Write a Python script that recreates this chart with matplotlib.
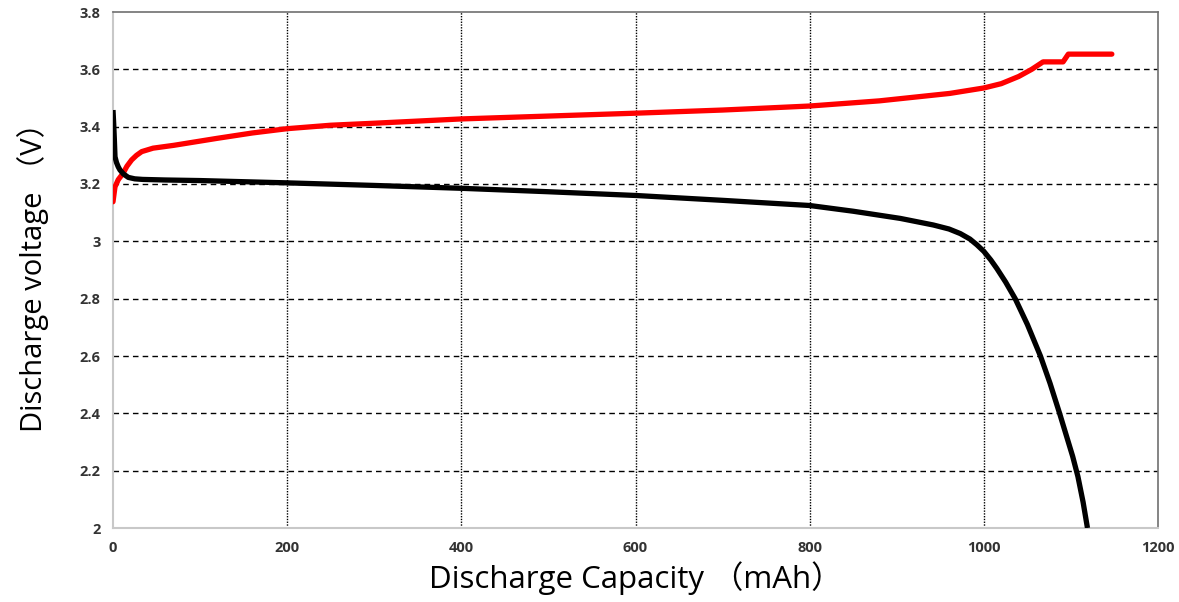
import matplotlib
matplotlib.use("Agg")
import matplotlib.pyplot as plt
import numpy as np

# Charge curve (red)
charge_cap = [0, 2.3, 6, 11.5, 16, 21.4, 27, 33, 46, 70, 119, 160, 200, 250, 300, 400,
              500, 600, 700, 800, 880, 961, 1000, 1020, 1040, 1055, 1068, 1091, 1097, 1147]
charge_v = [3.138, 3.19, 3.215, 3.237, 3.262, 3.284, 3.30, 3.313, 3.325, 3.335, 3.359, 3.378,
            3.393, 3.405, 3.412, 3.427, 3.437, 3.447, 3.458, 3.472, 3.49, 3.516, 3.535,
            3.55, 3.575, 3.60, 3.626, 3.626, 3.653, 3.653]

# Discharge curve (black)
dis_cap = [0, 0.8, 1.5, 2.3, 4, 6, 8, 12, 17.6, 25, 34, 60, 100, 200, 300, 400, 500, 600,
           700, 800, 850, 904, 942, 960, 973, 984, 992, 1000, 1008, 1015, 1025, 1036, 1050,
           1065, 1076, 1087, 1095, 1102, 1108, 1114, 1119]
dis_v = [3.458, 3.41, 3.36, 3.295, 3.275, 3.26, 3.249, 3.235, 3.223, 3.218, 3.216, 3.214,
         3.212, 3.204, 3.195, 3.185, 3.173, 3.16, 3.143, 3.125, 3.105, 3.08, 3.057, 3.043,
         3.027, 3.008, 2.988, 2.965, 2.935, 2.905, 2.858, 2.8, 2.71, 2.6, 2.505, 2.4, 2.32,
         2.25, 2.18, 2.09, 2.0]

x_ticks = [0, 200, 400, 600, 800, 1000, 1200]
y_ticks = [2, 2.2, 2.4, 2.6, 2.8, 3, 3.2, 3.4, 3.6, 3.8]
y_tick_labels = ["2", "2.2", "2.4", "2.6", "2.8", "3", "3.2", "3.4", "3.6", "3.8"]

fig = plt.figure(figsize=(11.79, 6.02), dpi=100)
ax = fig.add_axes([113/1179, 1-528/602, (1158-113)/1179, (528-12)/602])

ax.set_xlim(0, 1200)
ax.set_ylim(2, 3.8)
ax.set_xticks(x_ticks)
ax.set_yticks(y_ticks)
ax.set_yticklabels(y_tick_labels)

for y in y_ticks[1:-1]:
    ax.axhline(y, color="black", lw=1.0, ls=(0, (4, 3)), zorder=1)
for x in x_ticks[1:-1]:
    ax.axvline(x, color="black", lw=1.0, ls=(0, (1, 1)), zorder=1)

ax.plot(charge_cap, charge_v, color="#ff0000", lw=3.8, solid_capstyle="round",
        solid_joinstyle="round", zorder=3)
ax.plot(dis_cap, dis_v, color="black", lw=3.8, solid_capstyle="butt",
        solid_joinstyle="round", zorder=4)

for s in ["left", "bottom"]:
    ax.spines[s].set_color("#c8c8c8")
    ax.spines[s].set_linewidth(1.5)
for s in ["top", "right"]:
    ax.spines[s].set_color("#707070")
    ax.spines[s].set_linewidth(1.2)

ax.tick_params(length=0, labelsize=10.5, colors="#333333", pad=9)
for lab in ax.get_xticklabels() + ax.get_yticklabels():
    lab.set_family(["Open Sans", "DejaVu Sans"])
    lab.set_fontweight("bold")

fam = ["Open Sans", "Noto Sans CJK SC"]
ax.set_xlabel("Discharge Capacity （mAh）", fontsize=22.5, family=fam, color="black", labelpad=5)
ax.set_ylabel("Discharge voltage （V）", fontsize=21, family=fam, color="black", labelpad=22)

fig.savefig("out.png", dpi=100, facecolor="white")
